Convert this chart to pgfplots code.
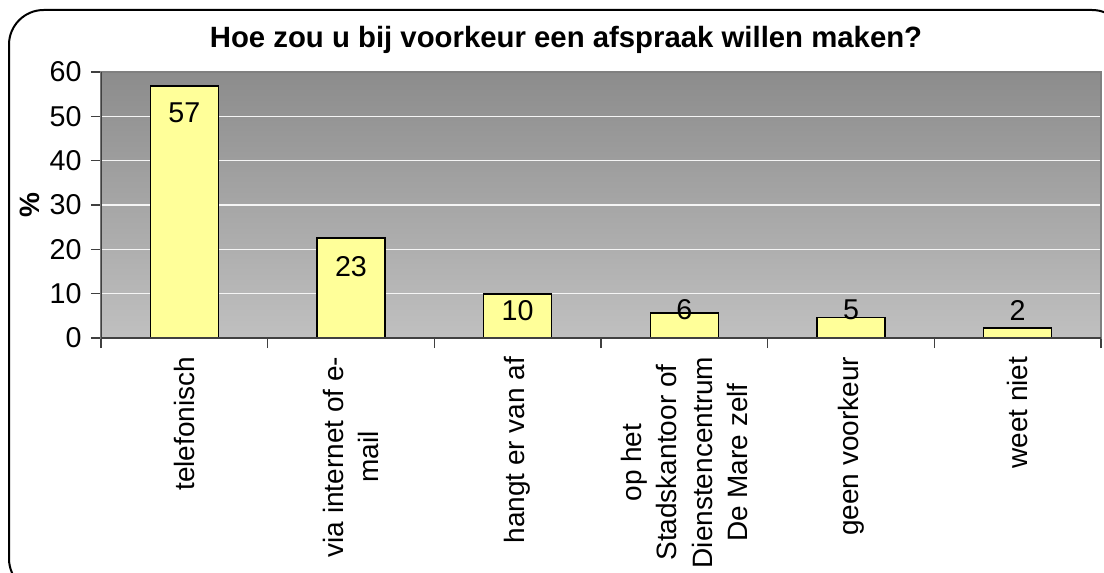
\documentclass[border=0pt]{standalone}
\usepackage{pgfplots}
\pgfplotsset{compat=1.18}
\usepackage{fontspec}
\setmainfont{Liberation Sans}

\definecolor{bartop}{RGB}{140,140,140}
\definecolor{barbot}{RGB}{192,192,192}
\definecolor{baryel}{RGB}{255,255,153}
\definecolor{frameg}{RGB}{128,128,128}
\definecolor{axdark}{RGB}{64,64,64}

\begin{document}
\begin{tikzpicture}
% page = 1104x573 px at 0.75pt per px
\path[use as bounding box] (0pt,0pt) rectangle (828pt,-429.75pt);
\draw[line width=1.5pt, rounded corners=26pt] (6.75pt,-7.5pt) rectangle (845pt,-445pt);

\node[font=\fontsize{22}{24}\selectfont\bfseries] at (424.5pt,-30pt)
  {Hoe zou u bij voorkeur een afspraak willen maken?};

\begin{axis}[
  at={(75.75pt,-253.5pt)}, anchor=south west,
  width=750pt, height=199.5pt, scale only axis,
  xmin=-0.5, xmax=5.5, ymin=0, ymax=60,
  xtick={-0.5,0.5,...,5.5}, x tick label as interval,
  xticklabels={telefonisch,{via internet of e-\\mail},hangt er van af,{op het\\Stadskantoor of\\Dienstencentrum\\De Mare zelf},geen voorkeur,weet niet},
  xticklabel style={rotate=90, anchor=east, align=center, font=\fontsize{21}{26.5}\selectfont},
  xticklabel shift=3pt,
  yticklabel style={xshift=-3.5pt, font=\fontsize{21.5}{26}\selectfont},
  ytick={0,10,...,60},
  xtick pos=bottom, ytick pos=left,
  tick align=outside, major tick length=7.5pt,
  tick style={axdark, line width=0.9pt},
  ymajorgrids, grid style={white!92!gray, line width=0.8pt},
  axis background/.style={top color=bartop, bottom color=barbot},
  axis line style={frameg, line width=1.2pt},
  /pgf/number format/assume math mode=true,
  ylabel={\textbf{\%}},
  every axis y label/.style={at={(axis description cs:-0.071,0.5)}, rotate=90, anchor=center, font=\fontsize{21}{24}\selectfont},
]
\addplot[ybar, bar width=51pt, fill=baryel, draw=black, line width=1.1pt]
  coordinates {(0,56.8) (1,22.6) (2,9.9) (3,5.6) (4,4.6) (5,2.3)};
\addplot[draw=none, mark=none, nodes near coords, point meta=explicit symbolic,
  every node near coord/.append style={anchor=center, font=\fontsize{21.5}{26}\selectfont}]
  table[x=x, y=ly, meta=lab] {
x ly lab
0 50.8 57
1 16.0 23
2 6.2 10
3 6.4 6
4 6.4 5
5 6.2 2
};
\draw[axdark, line width=1.2pt] (rel axis cs:0,1) -- (rel axis cs:0,0) -- (rel axis cs:1,0);
\end{axis}
\end{tikzpicture}
\end{document}
